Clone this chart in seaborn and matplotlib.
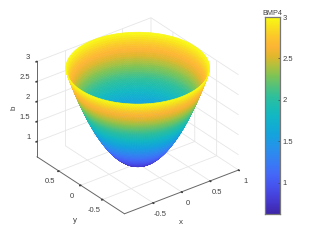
import numpy as np
import matplotlib
matplotlib.use("Agg")
import matplotlib.pyplot as plt
import seaborn as sns

# radial profile of the bowl
radius = [0, .02, .04, .06, .08, .1, .12, .14, .16, .18, .2, .22, .24, .26, .28, .3, .32, .34, .36, .38, .4, .42, .44, .46, .48,
          .5, .52, .54, .56, .58, .6, .61, .62, .63, .64, .65, .66, .67, .68, .69, .7, .71, .72, .73, .74, .75, .76, .77, .78, .79,
          .8, .81, .82, .83, .84, .85, .86, .87, .88, .89, .9, .91, .92, .93, .94, .95, .96, .97, .98, .99, 1]
bmp4 = [.62, .621, .624, .629, .635, .644, .654, .667, .681, .697, .715, .735, .757, .781, .807, .834, .864, .895, .928, .964, 1.001,
        1.04, 1.081, 1.124, 1.168, 1.215, 1.264, 1.314, 1.366, 1.421, 1.477, 1.506, 1.535, 1.565, 1.595, 1.626, 1.657, 1.688, 1.72,
        1.753, 1.786, 1.82, 1.854, 1.888, 1.923, 1.959, 1.995, 2.031, 2.068, 2.105, 2.143, 2.181, 2.22, 2.26, 2.299, 2.34, 2.38,
        2.421, 2.463, 2.505, 2.548, 2.591, 2.634, 2.678, 2.723, 2.768, 2.813, 2.859, 2.906, 2.953, 3.0]

x_ticks = [-0.5, 0, 0.5, 1]
x_labels = ["-0.5", "0", "0.5", "1"]
y_ticks = [-0.5, 0, 0.5]
y_labels = ["-0.5", "0", "0.5"]
z_ticks = [1, 1.5, 2, 2.5, 3]
z_labels = ["1", "1.5", "2", "2.5", "3"]
cbar_ticks = [1, 1.5, 2, 2.5, 3]

parula = ["#3E26A8", "#4435C8", "#4645E0", "#4656F0", "#4468F8", "#3A79F6", "#2F88F0", "#2396E8", "#15A3DE", "#12AED2", "#12B8C4",
          "#1EBDB0", "#30C09A", "#55C27A", "#7DC457", "#AFC13F", "#E0B82C", "#FDB535", "#FCC62C", "#F9E01E", "#F9FB15"]

sns.set_theme(style="white", rc={"font.family": ["Liberation Sans", "DejaVu Sans"]})
cmap = sns.blend_palette(parula, n_colors=256, as_cmap=True)
text_col = "#404040"
W, H = 321, 241

fig = plt.figure(figsize=(W / 100, H / 100), dpi=100)
side = 240
ax = fig.add_axes([(134.5 - side / 2) / W, (122 - side / 2) / H, side / W, side / H], projection="3d")
ax.patch.set_alpha(0)
ax.set_proj_type("ortho")
ax.view_init(elev=30, azim=-127.5)
ax.set_box_aspect((1, 1, 0.765), zoom=0.935)

theta = np.linspace(0, 2 * np.pi, 181)
rr, tt = np.meshgrid(radius, theta)
zz = np.tile(bmp4, (len(theta), 1))
surf = ax.plot_surface(rr * np.cos(tt), rr * np.sin(tt), zz, cmap=cmap, vmin=min(bmp4), vmax=3,
                       rstride=1, cstride=1, shade=False, linewidth=0.4, antialiased=True)
surf.set_edgecolor("face")

ax.set_xlim(-1, 1, view_margin=0)
ax.set_ylim(-1, 1, view_margin=0)
ax.set_zlim(min(bmp4), 3, view_margin=0)
ax.set_xticks(x_ticks)
ax.set_xticklabels(x_labels, va="center")
ax.set_yticks(y_ticks)
ax.set_yticklabels(y_labels, va="center")
ax.set_zticks(z_ticks)
ax.set_zticklabels(z_labels, ha="right", va="bottom")
ax.zaxis.set_ticks_position("upper")
ax.tick_params(labelsize=5.5, colors=text_col, pad=-1)
ax.tick_params(axis="z", pad=-5)

for a in (ax.xaxis, ax.yaxis, ax.zaxis):
    a.set_pane_color((1, 1, 1, 0))
    a.pane.set_edgecolor((1, 1, 1, 0))
    a.line.set_color("#666666")
    a.line.set_linewidth(0.7)
    a._axinfo["grid"].update(color="#e6e6e6", linewidth=0.6)
    a._axinfo["tick"].update(inward_factor=0.1, outward_factor=0.0)

fig.text(181 / W, 1 - 222 / H, "x", fontsize=5.8, color=text_col, ha="center", va="center")
fig.text(75 / W, 1 - 220 / H, "y", fontsize=5.8, color=text_col, ha="center", va="center")
fig.text(14 / W, 1 - 108 / H, "b", fontsize=5.8, color=text_col, ha="center", va="center", rotation=90)

# colorbar
cax = fig.add_axes([264.5 / W, 1 - 214 / H, 15.5 / W, 197 / H])
grad = np.linspace(min(bmp4), 3, 256).reshape(-1, 1)
cax.imshow(grad, origin="lower", aspect="auto", cmap=cmap, extent=[0, 1, min(bmp4), 3])
cax.set_xticks([])
cax.set_yticks(cbar_ticks)
cax.set_yticklabels(["1", "1.5", "2", "2.5", "3"])
cax.yaxis.tick_right()
cax.tick_params(axis="y", direction="in", length=1.5, width=0.5, pad=2, labelsize=5.5,
                colors=text_col, right=True)
for s in cax.spines.values():
    s.set_color("#777777")
    s.set_linewidth(0.9)
cax.set_title("BMP4", fontsize=5.2, color=text_col, pad=1.5)

fig.savefig("out.png", dpi=100)
